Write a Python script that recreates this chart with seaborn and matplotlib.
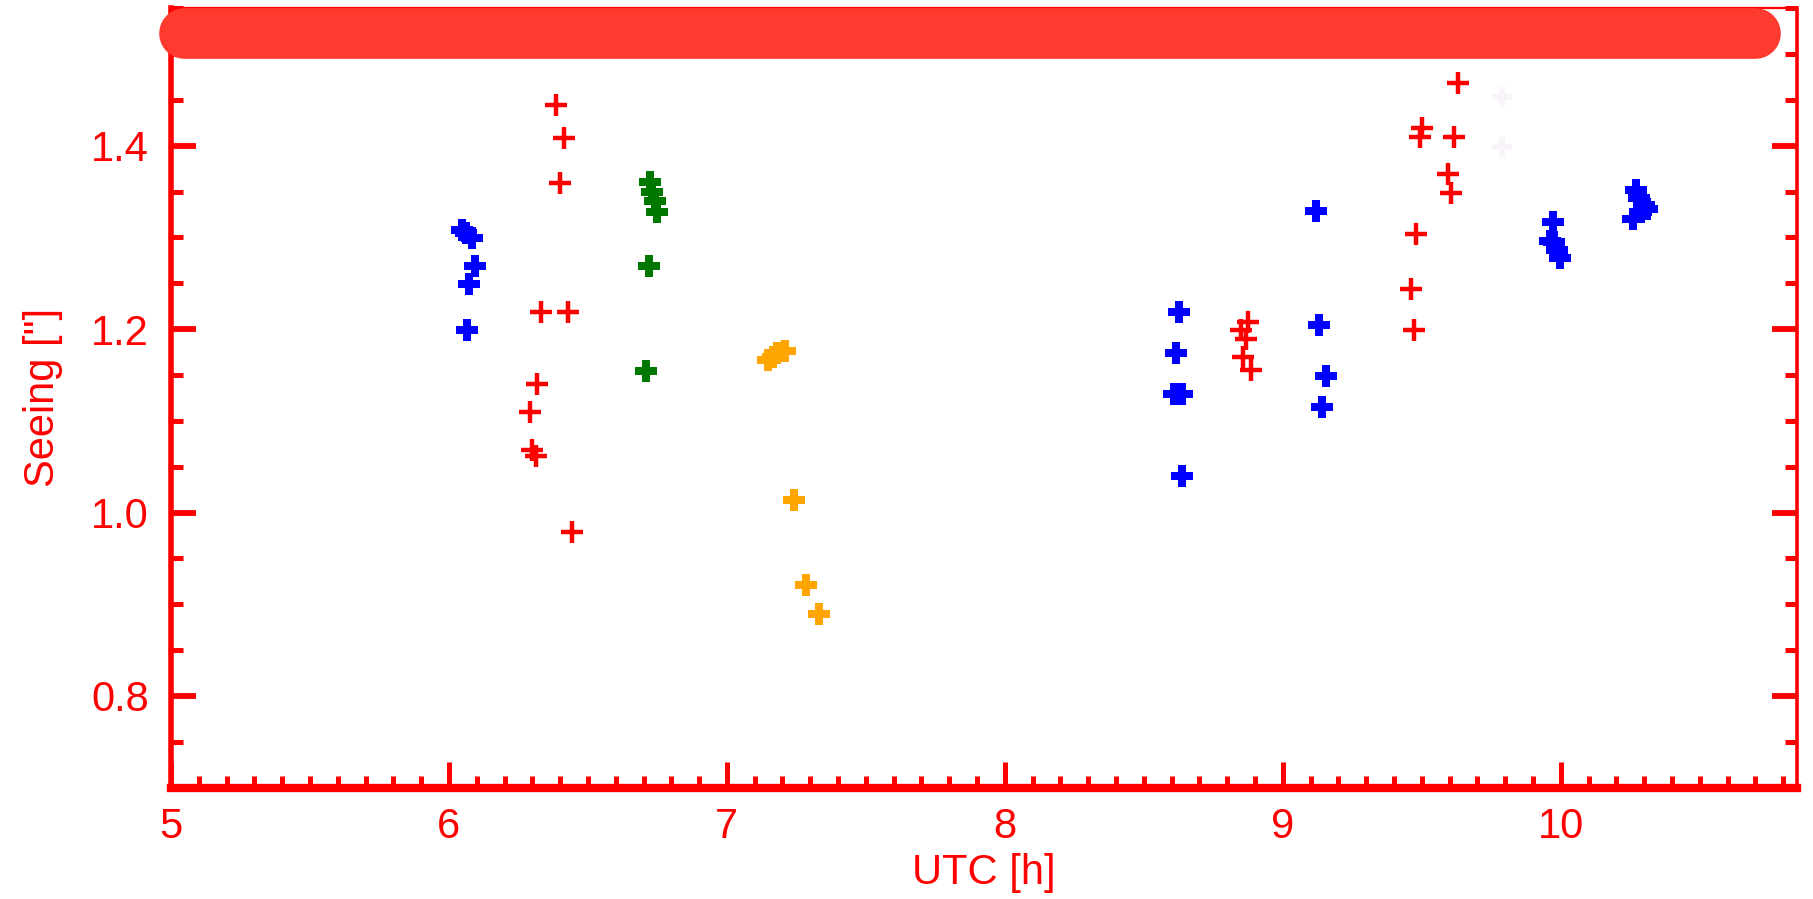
import numpy as np
import pandas as pd
import matplotlib
matplotlib.use("Agg")
import matplotlib.pyplot as plt
import seaborn as sns
from matplotlib.ticker import MultipleLocator

# ---------------- data ----------------
blue_x = [6.048, 6.060, 6.084, 6.094, 6.073, 6.066,
          8.625, 8.615, 8.610, 8.638, 8.639,
          9.120, 9.131, 9.156, 9.142,
          9.973, 9.960, 9.977, 9.988, 9.998,
          10.270, 10.280, 10.300, 10.290, 10.260, 10.310]
blue_y = [1.308, 1.305, 1.299, 1.269, 1.249, 1.199,
          1.219, 1.174, 1.129, 1.129, 1.040,
          1.329, 1.204, 1.149, 1.115,
          1.317, 1.296, 1.295, 1.286, 1.278,
          1.352, 1.343, 1.335, 1.328, 1.320, 1.331]

red_x = [6.384, 6.414, 6.399, 6.330, 6.429, 6.318, 6.292, 6.300, 6.312, 6.443,
         8.876, 8.849, 8.866, 8.856, 8.887,
         9.632, 9.500, 9.492, 9.615, 9.594, 9.605, 9.481, 9.461, 9.471]
red_y = [1.444, 1.408, 1.359, 1.219, 1.219, 1.140, 1.110, 1.068, 1.062, 0.979,
         1.208, 1.199, 1.189, 1.170, 1.155,
         1.468, 1.419, 1.409, 1.409, 1.369, 1.349, 1.304, 1.244, 1.199]

green_x = [6.725, 6.732, 6.740, 6.747, 6.719, 6.709]
green_y = [1.360, 1.350, 1.340, 1.328, 1.269, 1.154]

orange_x = [7.149, 7.165, 7.179, 7.209, 7.243, 7.286, 7.330]
orange_y = [1.166, 1.170, 1.174, 1.176, 1.014, 0.921, 0.889]

faint_x = [9.789, 9.789]
faint_y = [1.453, 1.399]

bar_x = [5.045, 10.70]
bar_y = [1.523, 1.523]

x_ticks = [5, 6, 7, 8, 9, 10]
y_ticks = [0.8, 1.0, 1.2, 1.4]

RED = "#ff0000"

sns.set_theme(style="white")
plt.rcParams["font.family"] = ["Liberation Sans", "DejaVu Sans"]

fig = plt.figure(figsize=(18.13, 8.99), dpi=100)
ax = fig.add_axes([171 / 1813, 1 - 787.6 / 899, (1797 - 171) / 1813, 779.4 / 899])

groups = [
    (faint_x, faint_y, "#f9f4f9", "P", 0, 15),
    (blue_x, blue_y, "#0000ff", "P", 0, 15.5),
    (green_x, green_y, "#007800", "P", 0, 15.5),
    (orange_x, orange_y, "#ffa500", "P", 0, 15.5),
]
for gx, gy, col, mk, lw, ms in groups:
    df = pd.DataFrame({"x": gx, "y": gy})
    sns.scatterplot(data=df, x="x", y="y", ax=ax, color=col, marker=mk,
                    s=ms ** 2, linewidth=lw, edgecolor=col, zorder=3, legend=False)

dfr = pd.DataFrame({"x": red_x, "y": red_y})
sns.scatterplot(data=dfr, x="x", y="y", ax=ax, color=RED, marker="+",
                s=16 ** 2, linewidth=3.2, zorder=3, legend=False)

sns.lineplot(x=bar_x, y=bar_y, ax=ax, color="#ff3b30", linewidth=36.5,
             solid_capstyle="round", clip_on=False, zorder=4)

ax.set_xlim(5, 10.85)
ax.set_ylim(0.7, 1.55)
ax.set_xticks(x_ticks)
ax.set_xticklabels([str(t) for t in x_ticks])
ax.set_yticks(y_ticks)
ax.set_yticklabels([f"{t:.1f}" for t in y_ticks])
ax.xaxis.set_minor_locator(MultipleLocator(0.1))
ax.yaxis.set_minor_locator(MultipleLocator(0.05))

ax.tick_params(axis="x", which="major", direction="in", length=19, width=3.6,
               color=RED, labelcolor=RED, labelsize=30, pad=14,
               bottom=True, top=False)
ax.tick_params(axis="x", which="minor", direction="in", length=9, width=3.6,
               color=RED, bottom=True, top=False)
ax.tick_params(axis="y", which="major", direction="in", length=18, width=4.2,
               color=RED, labelcolor=RED, labelsize=30, pad=16,
               left=True, right=True)
ax.tick_params(axis="y", which="minor", direction="in", length=8.5, width=3.6,
               color=RED, left=True, right=True)

for side, w in [("left", 4.0), ("bottom", 6.0), ("right", 2.6), ("top", 1.6)]:
    ax.spines[side].set_visible(True)
    ax.spines[side].set_color(RED)
    ax.spines[side].set_linewidth(w)

ax.set_xlabel("UTC [h]", color=RED, fontsize=30, labelpad=4)
ax.set_ylabel('Seeing ["]', color=RED, fontsize=30, labelpad=20)
ax.grid(False)
ax.set_facecolor("white")

fig.savefig("out.png", dpi=100, facecolor="white")
